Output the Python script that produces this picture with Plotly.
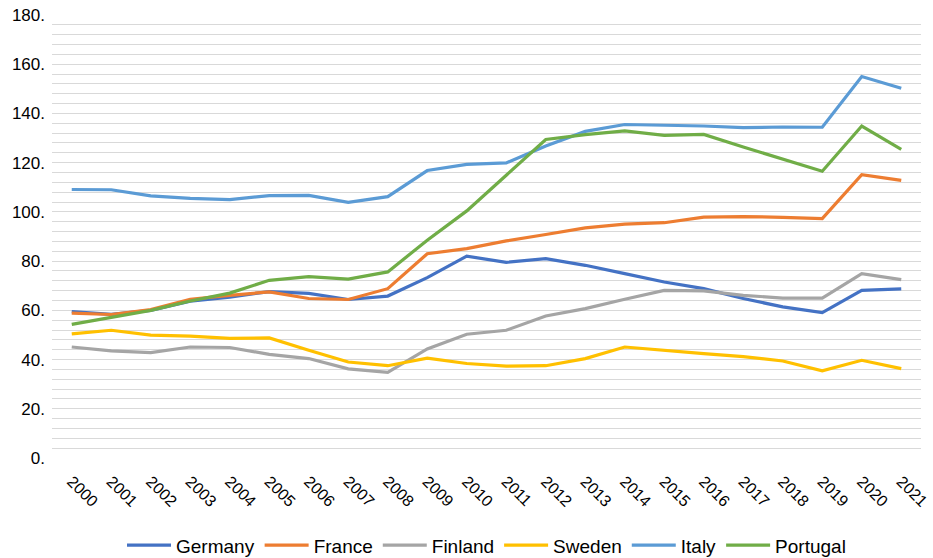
import plotly.graph_objects as go

years = [str(y) for y in range(2000, 2022)]

germany = [59.5, 58.4, 60.0, 63.7, 65.4, 67.6, 66.9, 64.4, 65.8, 73.3, 82.0, 79.5, 81.0, 78.3, 74.9, 71.5, 68.8, 64.8, 61.4, 59.1, 68.1, 68.7]
france = [58.9, 58.3, 60.3, 64.5, 66.1, 67.5, 64.8, 64.4, 68.8, 83.0, 85.1, 88.2, 90.8, 93.5, 95.0, 95.6, 97.9, 98.1, 97.8, 97.3, 115.1, 112.8]
finland = [45.1, 43.5, 42.8, 45.1, 44.9, 42.1, 40.4, 36.2, 34.8, 44.3, 50.3, 51.9, 57.7, 60.7, 64.5, 68.1, 67.9, 66.1, 65.0, 65.0, 74.9, 72.5]
sweden = [50.4, 51.9, 49.9, 49.5, 48.6, 48.8, 43.8, 39.0, 37.5, 40.6, 38.4, 37.3, 37.5, 40.4, 45.1, 43.6, 42.4, 41.2, 39.4, 35.4, 39.7, 36.3]
italy = [109.1, 109.0, 106.5, 105.5, 105.0, 106.6, 106.7, 103.9, 106.2, 116.8, 119.3, 119.9, 126.8, 132.7, 135.5, 135.3, 134.9, 134.2, 134.5, 134.4, 155.0, 150.2]
portugal = [54.3, 57.3, 60.0, 63.8, 67.0, 72.2, 73.7, 72.7, 75.6, 88.5, 100.4, 114.9, 129.4, 131.4, 132.9, 131.1, 131.5, 126.4, 121.4, 116.5, 134.9, 125.4]

series = [
    ("Germany", germany, "#4472C4"),
    ("France", france, "#ED7D31"),
    ("Finland", finland, "#A5A5A5"),
    ("Sweden", sweden, "#FFC000"),
    ("Italy", italy, "#5B9BD5"),
    ("Portugal", portugal, "#70AD47"),
]

y_ticks = list(range(0, 181, 20))
y_ticktext = [f"{v}." for v in y_ticks]

fig = go.Figure()
for name, vals, color in series:
    fig.add_trace(go.Scatter(x=years, y=vals, name=name, mode="lines",
                             line=dict(color=color, width=3.2)))

font_family = "Liberation Sans, Arial, sans-serif"

fig.update_layout(
    width=933, height=558,
    margin=dict(l=52, r=12, t=15, b=100, autoexpand=False),
    plot_bgcolor="white", paper_bgcolor="white",
    font=dict(family=font_family, size=16, color="#000000"),
    showlegend=True,
    legend=dict(orientation="h", x=0.5, xanchor="center", y=-0.197, yanchor="middle",
                font=dict(size=19, color="#000000"), itemwidth=44,
                tracegroupgap=0),
    xaxis=dict(type="category", tickangle=45, showgrid=False, showline=False,
               ticks="", tickfont=dict(size=16), range=[-0.5, 21.5],
               automargin=False, ticklabeloverflow="allow", ticklabelstandoff=10),
    yaxis=dict(range=[0, 180], tickvals=y_ticks, ticktext=y_ticktext,
               showgrid=True, gridcolor="#D9D9D9", gridwidth=1.3,
               zeroline=False, showline=False, ticks="",
               tickfont=dict(size=17), automargin=False, ticklabeloverflow="allow",
               ticklabelstandoff=6,
               minor=dict(dtick=4, showgrid=True, gridcolor="#D9D9D9", gridwidth=1.3)),
)

fig.write_html("out.html", config={"displayModeBar": False},
               post_script="document.body.style.margin='0';document.body.style.overflow='hidden';")
